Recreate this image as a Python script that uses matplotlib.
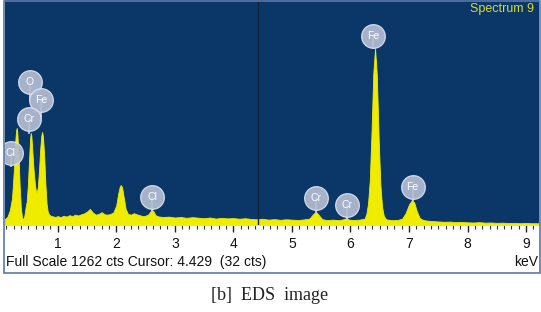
import matplotlib
matplotlib.use("Agg")
import matplotlib.pyplot as plt
from matplotlib.ticker import MultipleLocator
from matplotlib.patches import Rectangle

# ---- data (keV, counts) ----
energy = [0.10, 0.14, 0.18, 0.22, 0.25, 0.27, 0.29, 0.30, 0.31, 0.33, 0.35, 0.37, 0.39, 0.41,
          0.43, 0.45, 0.47, 0.49, 0.51, 0.53, 0.54, 0.55, 0.57, 0.59, 0.61, 0.63, 0.64, 0.66,
          0.68, 0.70, 0.72, 0.735, 0.75, 0.77, 0.79, 0.81, 0.83, 0.85, 0.88, 0.92,
          0.96, 1.00, 1.05, 1.10, 1.15, 1.20, 1.25, 1.30, 1.35, 1.40, 1.45, 1.50, 1.55, 1.60,
          1.65, 1.70, 1.75, 1.80, 1.85, 1.90, 1.95, 2.00, 2.03, 2.06, 2.08, 2.10, 2.13, 2.16,
          2.20, 2.25, 2.30, 2.35, 2.40, 2.45, 2.50, 2.55, 2.60, 2.63, 2.67, 2.72, 2.80, 2.90,
          3.00, 3.10, 3.20, 3.30, 3.40, 3.50, 3.60, 3.70, 3.80, 3.90, 4.00, 4.10, 4.20, 4.30,
          4.40, 4.50, 4.60, 4.70, 4.80, 4.90, 5.00, 5.10, 5.20, 5.30, 5.36, 5.41, 5.46, 5.52,
          5.60, 5.70, 5.80, 5.88, 5.93, 5.98, 6.05, 6.15, 6.24, 6.27, 6.30, 6.33, 6.36, 6.39,
          6.42, 6.45, 6.48, 6.51, 6.54, 6.57, 6.61, 6.66, 6.72, 6.80, 6.88, 6.94, 7.00, 7.05,
          7.09, 7.13, 7.18, 7.24, 7.30, 7.40, 7.50, 7.60, 7.70, 7.80, 7.90, 8.00, 8.10, 8.20,
          8.30, 8.40, 8.50, 8.60, 8.70, 8.80, 8.90, 9.00, 9.10, 9.22]
counts = [34, 45, 80, 150, 300, 450, 530, 544, 520, 400, 220, 100, 45, 28,
          50, 95, 130, 220, 360, 490, 516, 500, 400, 300, 230, 185, 179, 210,
          300, 420, 500, 522, 490, 380, 230, 120, 75, 60, 52, 48,
          45, 50, 44, 52, 47, 55, 50, 58, 53, 60, 65, 75, 90, 70,
          58, 62, 72, 60, 58, 62, 70, 110, 170, 215, 224, 210, 150, 90,
          62, 58, 66, 60, 55, 50, 52, 60, 84, 80, 55, 48, 45, 47,
          42, 45, 40, 44, 41, 38, 42, 36, 40, 37, 39, 35, 38, 34,
          32, 35, 30, 33, 29, 32, 30, 28, 31, 36, 60, 75, 55, 32,
          28, 30, 27, 32, 39, 30, 28, 30, 35, 60, 120, 250, 520, 850,
          991, 840, 500, 230, 100, 50, 32, 29, 27, 28, 35, 65, 115, 140,
          125, 80, 40, 28, 25, 22, 20, 18, 19, 16, 17, 15, 14, 16,
          13, 14, 12, 13, 11, 12, 10, 11, 10, 10]

# peak labels: text, circle centre (keV, counts), stem end (counts)
label_text = ["Cl", "O", "Fe", "Cr", "Cl", "Cr", "Cr", "Fe", "Fe"]
label_x = [0.20, 0.524, 0.712, 0.507, 2.617, 5.416, 5.934, 6.392, 7.06]
label_y = [404, 802, 701, 595, 159, 153, 112, 1060, 213]
stem_end = [330, 700, 600, 516, 84, 75, 39, 991, 140]

full_scale = 1262
cursor_kev = 4.429
cursor_cts = 32
spectrum_name = "Spectrum 9"
tick_values = [1, 2, 3, 4, 5, 6, 7, 8, 9]

# ---- figure ----
W, H = 541, 312
fig = plt.figure(figsize=(W / 100, H / 100), dpi=100)
fig.patch.set_facecolor("white")

ax_l, ax_r, ax_top, ax_bot = 5, 539, 0, 225
ax = fig.add_axes([ax_l / W, 1 - ax_bot / H, (ax_r - ax_l) / W, (ax_bot - ax_top) / H])
navy = "#0b3768"
ax.set_facecolor(navy)
ax.fill_between(energy, counts, 0, color="#f0ec00", linewidth=0.6, edgecolor="#f0ec00", zorder=2)
ax.set_xlim(0.10, 9.22)
ax.set_ylim(0, full_scale)
ax.axvline(cursor_kev, color="#142238", lw=1.0, zorder=3)

# labels
for t, lx, ly, se in zip(label_text, label_x, label_y, stem_end):
    ax.plot([lx, lx], [se, ly], color="#c8d0e0", lw=1.3, zorder=4, clip_on=True)
    ax.scatter([lx], [ly], s=290, color="#b4bed2", edgecolors="#dde3ee", linewidths=0.9,
               alpha=0.92, zorder=5, clip_on=True)
    ax.text(lx, ly, t, color="white", fontsize=7.5, ha="center", va="center", zorder=6,
            family="Liberation Sans", clip_on=True)

ax.text(0.99, 0.985, spectrum_name, transform=ax.transAxes, ha="right", va="top",
        color="#d2dc3c", fontsize=9, family="Liberation Sans")

for s in ax.spines.values():
    s.set_visible(False)
ax.set_yticks([])
ax.set_xticks(tick_values)
ax.set_xticklabels([str(v) for v in tick_values], family="Liberation Sans", fontsize=10)
ax.xaxis.set_minor_locator(MultipleLocator(0.125))
ax.tick_params(axis="x", which="major", direction="out", length=5, width=1, color="#222222",
               pad=4, labelcolor="#111111")
ax.tick_params(axis="x", which="minor", direction="out", length=3, width=0.8, color="#333333")

# bottom info text
fig.text(6 / W, 1 - 262 / H, f"Full Scale {full_scale} cts Cursor: {cursor_kev:.3f}  ({cursor_cts} cts)",
         ha="left", va="center", fontsize=10, family="Liberation Sans", color="#111111")
fig.text(538 / W, 1 - 262 / H, "keV", ha="right", va="center", fontsize=10,
         family="Liberation Sans", color="#111111")

# outer frame
fig.patches.append(Rectangle((4 / W, 1 - 273 / H), (536 / W), 272 / H, transform=fig.transFigure,
                             fill=False, edgecolor="#5a78a8", linewidth=1.2))

# caption
fig.text(270 / W, 1 - 295 / H, "[b]  EDS  image", ha="center", va="center", fontsize=13,
         family="Liberation Serif", color="#222222")

fig.savefig("out.png", dpi=100)
